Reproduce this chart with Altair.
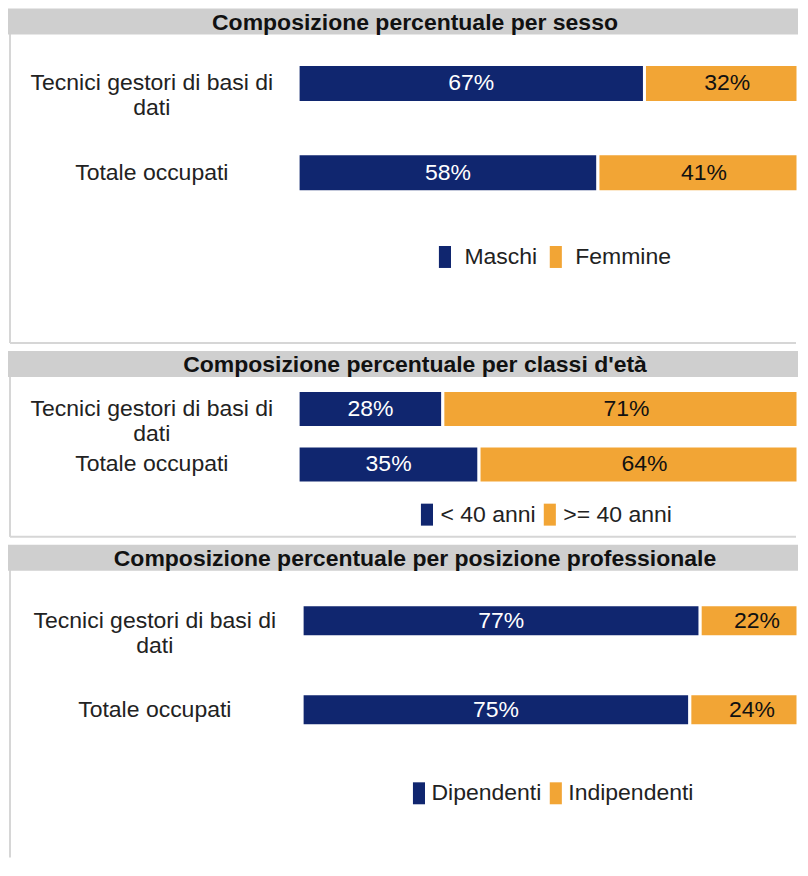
import altair as alt
import pandas as pd

# ---------------- data ----------------
categories = ["Tecnici gestori di basi di\ndati", "Totale occupati"]
panel_titles = [
    "Composizione percentuale per sesso",
    "Composizione percentuale per classi d'età",
    "Composizione percentuale per posizione professionale",
]
sesso_series = ["Maschi", "Femmine"]
sesso_first = [67, 58]
sesso_second = [32, 41]

eta_series = ["< 40 anni", ">= 40 anni"]
eta_first = [28, 35]
eta_second = [71, 64]

pos_series = ["Dipendenti", "Indipendenti"]
pos_first = [77, 75]
pos_second = [22, 24]

# ---------------- style ----------------
NAVY = "#10266f"
ORANGE = "#f2a535"
HEADER = "#cfcfcf"
BORDER = "#d6d6d6"
FONT = "Liberation Sans"
FS = 23
W = 791
PX_PER_PCT = 5.15


def panel(title, series, first, second, height, ycenters, x0, bar_size,
          label_x, legend_x, legend_y, label_offset, col_pad, bottom=True):
    rows = []
    for i, c in enumerate(categories):
        rows.append(dict(cat=c, serie=series[0], value=first[i], order=0))
        rows.append(dict(cat=c, serie=series[1], value=second[i], order=1))
    df = pd.DataFrame(rows)

    xmax = (W - 4 - x0) / PX_PER_PCT
    xs = alt.Scale(domain=[-x0 / PX_PER_PCT, xmax], nice=False, zero=False, clamp=True)
    ys = alt.Scale(type="point", domain=categories, range=ycenters, padding=0)

    base = alt.Chart(df).transform_stack(
        stack="value", groupby=["cat"], as_=["v0", "v1"],
        sort=[alt.SortField("order", order="ascending")],
    ).transform_calculate(
        mid="(datum.v0 + datum.v1) / 2",
        lab="datum.value + '%'",
        tc="datum.order == 0 ? 'white' : '#111111'",
    )

    bars = base.mark_bar(size=bar_size, stroke="white", strokeWidth=3,
                         strokeJoin="bevel").encode(
        x=alt.X("v0:Q", scale=xs, axis=None),
        x2="v1:Q",
        y=alt.Y("cat:N", scale=ys, axis=None),
        color=alt.Color(
            "serie:N",
            scale=alt.Scale(domain=series, range=[NAVY, ORANGE]),
            legend=alt.Legend(
                title=None, orient="none", legendX=legend_x, legendY=legend_y,
                direction="horizontal", symbolType="M-0.55,-1H0.55V1H-0.55Z",
                symbolSize=484, symbolStrokeWidth=0, symbolOpacity=1,
                labelFont=FONT, labelFontSize=FS, labelColor="#222222",
                labelOffset=label_offset, columnPadding=col_pad, padding=0,
            ),
        ),
    )

    vals = base.mark_text(font=FONT, fontSize=FS, baseline="middle").encode(
        x=alt.X("mid:Q", scale=xs, axis=None),
        y=alt.Y("cat:N", scale=ys, axis=None),
        text="lab:N",
        color=alt.Color("tc:N", scale=None),
    )

    cats = alt.Chart(pd.DataFrame({"cat": categories})).mark_text(
        font=FONT, fontSize=FS, lineBreak="\n", lineHeight=25,
        align="center", baseline="middle", color="#222222",
    ).encode(
        x=alt.value(label_x),
        y=alt.Y("cat:N", scale=ys, axis=None),
        text="cat:N",
    )

    tdf = pd.DataFrame({"t": [title]})
    head = alt.Chart(tdf).mark_rect(color=HEADER).encode(
        x=alt.value(0), x2=alt.value(W), y=alt.value(0), y2=alt.value(26)
    )
    head_txt = alt.Chart(tdf).mark_text(
        font=FONT, fontSize=FS, fontWeight="bold", color="#111111", baseline="middle"
    ).encode(x=alt.value(407.5), y=alt.value(14), text="t:N")

    left = alt.Chart(tdf).mark_rule(color=BORDER, strokeWidth=2).encode(
        x=alt.value(2), y=alt.value(2), y2=alt.value(height - 2)
    )
    layers = [left, head, head_txt]
    if bottom:
        bot = alt.Chart(tdf).mark_rule(color=BORDER, strokeWidth=2).encode(
            x=alt.value(2), x2=alt.value(W - 2), y=alt.value(height - 2)
        )
        layers.append(bot)
    layers += [bars, vals, cats]
    return alt.layer(*layers).properties(width=W, height=height)


p1 = panel(panel_titles[0], sesso_series, sesso_first, sesso_second,
           height=337, ycenters=[75, 164.5], x0=289, bar_size=38,
           label_x=144, legend_x=426, legend_y=237, label_offset=8, col_pad=7)
p2 = panel(panel_titles[1], eta_series, eta_first, eta_second,
           height=188, ycenters=[58, 113.5], x0=289, bar_size=37,
           label_x=144, legend_x=408, legend_y=152, label_offset=2, col_pad=2)
p3 = panel(panel_titles[2], pos_series, pos_first, pos_second,
           height=315, ycenters=[76, 165], x0=293, bar_size=32,
           label_x=147, legend_x=400, legend_y=237, label_offset=1, col_pad=3,
           bottom=False)

chart = alt.vconcat(p1, p2, p3, spacing=6).resolve_scale(
    x="independent", y="independent", color="independent"
).properties(
    padding={"left": 0, "top": 0, "right": 0, "bottom": 0},
    background="white",
).configure_view(stroke=None)

chart.save("out.html", embed_options={"renderer": "svg", "actions": False})
